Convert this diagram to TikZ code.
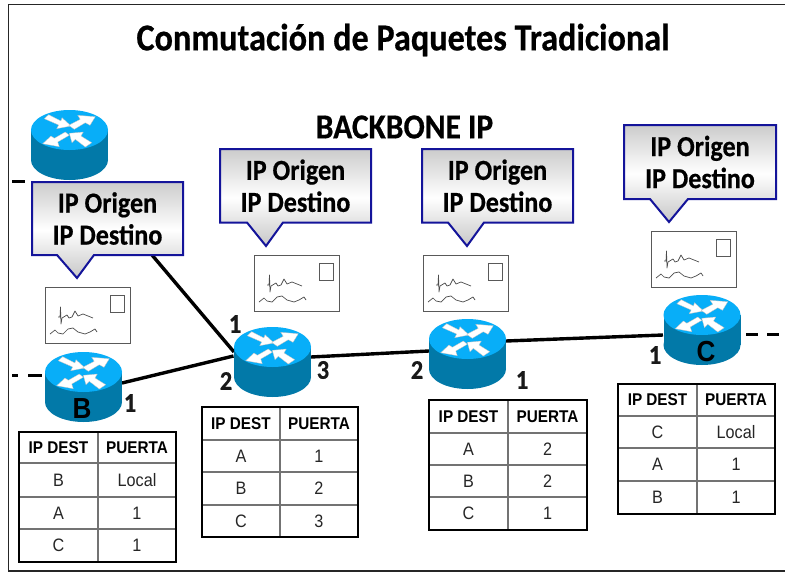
\documentclass[tikz,border=0pt]{standalone}
\usepackage{fontspec}
\setmainfont{Carlito}
\newfontfamily\condfont{Carlito}[FakeStretch=0.9,BoldFeatures={FakeBold=0.5}]
\newfontfamily\tabfont{Liberation Sans}[FakeStretch=0.9]
\definecolor{rtop}{HTML}{08AEF8}
\definecolor{rside}{HTML}{0279A8}
\definecolor{cbblue}{HTML}{14149A}
\tikzset{
  link/.style={line width=3.4pt,black},
  stub/.style={line width=3pt,black,dash pattern=on 12pt off 9pt},
  routerbox/.style={minimum width=77pt,minimum height=70pt,inner sep=0pt,outer sep=0pt},
  rarrow/.style={fill=white,draw=black!25,line width=.3pt,line join=round},
  callout/.style={draw=cbblue,line width=2pt,line join=miter,top color=black!20,bottom color=black!22,middle color=white},
  calltext/.style={font=\condfont\fontsize{29}{32}\selectfont\bfseries,align=center,inner sep=0pt,text=black},
  envbox/.style={draw=black!65,line width=1.1pt,fill=white},
  scribble/.style={black!70,line width=.7pt,line join=round},
  portlab/.style={font=\condfont\fontsize{27}{27}\selectfont\bfseries,inner sep=0pt,text=black!90},
  rletter/.style={font=\tabfont\fontsize{29}{29}\selectfont\bfseries,inner sep=0pt},
  tabhead/.style={font=\tabfont\fontsize{17}{17}\selectfont\bfseries,inner sep=0pt},
  tabcell/.style={font=\tabfont\fontsize{18}{18}\selectfont,inner sep=0pt,text=black!85},
  tabframe/.style={draw=black,line width=2.6pt,fill=white},
  tabrule/.style={draw=black!55,line width=1.2pt},
}
% #1 name, #2 cx, #3 top y
\newcommand{\myrouter}[3]{%
  \node[routerbox] (#1) at (#2,#3+35) {};
  \begin{scope}[shift={(#2,#3)}]
    \fill[rside] (-38.5,20) rectangle (38.5,50);
    \fill[rside] (0,50) ellipse [x radius=38.5,y radius=20];
    \fill[rtop] (0,20) ellipse [x radius=38.5,y radius=20];
    \path[rarrow] (-25.2,8.7) -- (-20.8,4.7) -- (-8.5,11) -- (-7.5,7.7) -- (1.5,16) -- (-12.8,18.7) -- (-10.8,15) -- cycle;
    \path[rarrow] (-0.8,15.3) -- (10.8,9.3) -- (8.2,5.3) -- (25.8,6.7) -- (20.5,15.3) -- (15.8,12.7) -- (4.8,19.3) -- cycle;
    \path[rarrow] (-4.2,22) -- (-15.2,28.3) -- (-18.5,26) -- (-26.8,33.7) -- (-10.2,36.7) -- (-11.8,32) -- (-0.2,25.3) -- cycle;
    \path[rarrow] (-0.2,23.3) -- (13.8,22) -- (11.5,26) -- (22.2,32.7) -- (15.8,37) -- (5.8,29.3) -- (2.5,32.7) -- cycle;
  \end{scope}}
% #1 name, #2 left, #3 top, #4 right, #5 bottom, #6 base left, #7 tip x, #8 base right, #9 tip y
\newcommand{\mycallout}[9]{%
  \path[callout] (#2,#3) -- (#4,#3) -- (#4,#5) -- (#8,#5) -- (#7,#9) -- (#6,#5) -- (#2,#5) -- cycle;
  \node[calltext] (#1) at ({(#2+#4)/2},{(#3+#5)/2}) {IP Origen\\IP Destino};}
% #1 name, #2 left, #3 top
\newcommand{\myenv}[3]{%
  \node[envbox,minimum width=85pt,minimum height=56pt,inner sep=0pt,anchor=north west] (#1) at (#2,#3) {};
  \begin{scope}[shift={(#2,#3)}]
    \draw[black!65,line width=.9pt] (65,8) rectangle (79,25);
    \draw[scribble] (13,30) -- (15,30) -- (15.5,20) -- (16,37) -- (17,31) -- (22,28) -- (24,31) -- (27,30) -- (30,24) -- (33,29) -- (38,27) -- (43,29) -- (48,31);
    \draw[scribble] (5,47) -- (10,43) -- (13,46) -- (18,47) -- (23,42) -- (28,41) -- (33,45) -- (40,47) -- (45,45) -- (50,42) -- (52,45);
  \end{scope}}
% #1 name, #2 left,#3 top,#4 right,#5 bottom,#6 col,#7 r1,#8 r2,#9 r3, then cells
\newcommand{\mytable}[9]{%
  \def\tn{#1}\def\tl{#2}\def\tt{#3}\def\tr{#4}\def\tb{#5}\def\tc{#6}\def\ra{#7}\def\rb{#8}\def\rc{#9}%
  \mytablecells}
\newcommand{\mytablecells}[6]{%
  \path[tabframe] (\tl,\tt) rectangle (\tr,\tb);
  \draw[tabrule] (\tl,\ra) -- (\tr,\ra) (\tl,\rb) -- (\tr,\rb) (\tl,\rc) -- (\tr,\rc) (\tc,\tt) -- (\tc,\tb);
  \draw[black,line width=2.6pt] (\tl,\tt) rectangle (\tr,\tb);
  \node[tabhead] (\tn h1) at ({(\tl+\tc)/2},{(\tt+\ra)/2}) {IP DEST};
  \node[tabhead] (\tn h2) at ({(\tc+\tr)/2},{(\tt+\ra)/2}) {PUERTA};
  \node[tabcell] (\tn a1) at ({(\tl+\tc)/2},{(\ra+\rb)/2}) {#1};
  \node[tabcell] (\tn a2) at ({(\tc+\tr)/2},{(\ra+\rb)/2}) {#2};
  \node[tabcell] (\tn b1) at ({(\tl+\tc)/2},{(\rb+\rc)/2}) {#3};
  \node[tabcell] (\tn b2) at ({(\tc+\tr)/2},{(\rb+\rc)/2}) {#4};
  \node[tabcell] (\tn c1) at ({(\tl+\tc)/2},{(\rc+\tb)/2}) {#5};
  \node[tabcell] (\tn c2) at ({(\tc+\tr)/2},{(\rc+\tb)/2}) {#6};}
\begin{document}
\begin{tikzpicture}[x=1pt,y=-1pt]
\useasboundingbox (0,0) rectangle (785,573);
\fill[white] (0,0) rectangle (785,573);
\draw[black!85,line width=1.6pt] (785,4.5) -- (8.5,4.5) -- (8.5,571) -- (785,571);
% connector ends
\coordinate (portB) at (122,383);
\coordinate (portA) at (233.5,356);
\coordinate (portAup) at (234,352);
\coordinate (portAr) at (311,357);
\coordinate (portDl) at (429,351);
\coordinate (portDr) at (506,341);
\coordinate (portCl) at (663,335);
\coordinate (calloutfoot) at (152,255);
\coordinate (stubTopA) at (12,181.5);
\coordinate (stubTopB) at (25,181.5);
\coordinate (stubBA) at (12,375);
\coordinate (stubBB) at (43,375);
\coordinate (stubCA) at (746,334);
\coordinate (stubCB) at (785,334);
\draw[link] (calloutfoot) -- (portAup);
\draw[link] (portB) -- (portA);
\draw[link] (portAr) -- (portDl);
\draw[link] (portDr) -- (portCl);
\draw[line width=3pt,black] (stubTopA) -- (stubTopB);
\draw[line width=3pt,black,dash pattern=on 6pt off 10pt on 14pt off 10pt] (stubBA) -- (stubBB);
\draw[stub] (stubCA) -- (stubCB);
% routers
\myrouter{rtop}{69.5}{110}
\myrouter{rb}{83.5}{352}
\myrouter{ra}{272.5}{327}
\myrouter{rd}{467.5}{319}
\myrouter{rc}{702}{295}
% callouts
\mycallout{cb}{32}{182}{183}{255}{57}{77}{94}{278}
\mycallout{ca}{220}{149}{371}{222.5}{247}{266}{283}{246}
\mycallout{cd}{422}{149}{573}{222.5}{448}{467}{484}{246}
\mycallout{cc}{624}{125}{776}{199}{650}{669}{688}{222}
% envelopes
\myenv{eb}{45}{287}
\myenv{ea}{254}{255}
\myenv{ed}{423}{255}
\myenv{ec}{651}{231}
% titles
\node[font=\condfont\fontsize{38}{38}\selectfont\bfseries,inner sep=0pt] (title) at (403,40) {Conmutación de Paquetes Tradicional};
\node[font=\condfont\fontsize{35}{34}\selectfont\bfseries,inner sep=0pt] (backbone) at (404.5,127) {BACKBONE IP};
% router letters
\node[rletter] (lB) at (82,409) {B};
\node[rletter] (lC) at (706,352) {C};
% ports
\node[portlab] (p1) at (130,403) {1};
\node[portlab] (p2) at (235,324) {1};
\node[portlab] (p3) at (226,381) {2};
\node[portlab] (p4) at (323,370) {3};
\node[portlab] (p5) at (417,370) {2};
\node[portlab] (p6) at (522,380) {1};
\node[portlab] (p7) at (655,355) {1};
% tables
\mytable{tb}{19}{432}{176}{562}{98}{463}{497}{529}{B}{Local}{A}{1}{C}{1}
\mytable{ta}{202}{407}{358}{537}{280}{440}{472}{505}{A}{1}{B}{2}{C}{3}
\mytable{td}{429}{400}{587}{530}{508}{433}{465}{497}{A}{2}{B}{2}{C}{1}
\mytable{tc}{618}{384}{775}{514}{697}{416}{448}{481}{C}{Local}{A}{1}{B}{1}
\end{tikzpicture}
\end{document}
